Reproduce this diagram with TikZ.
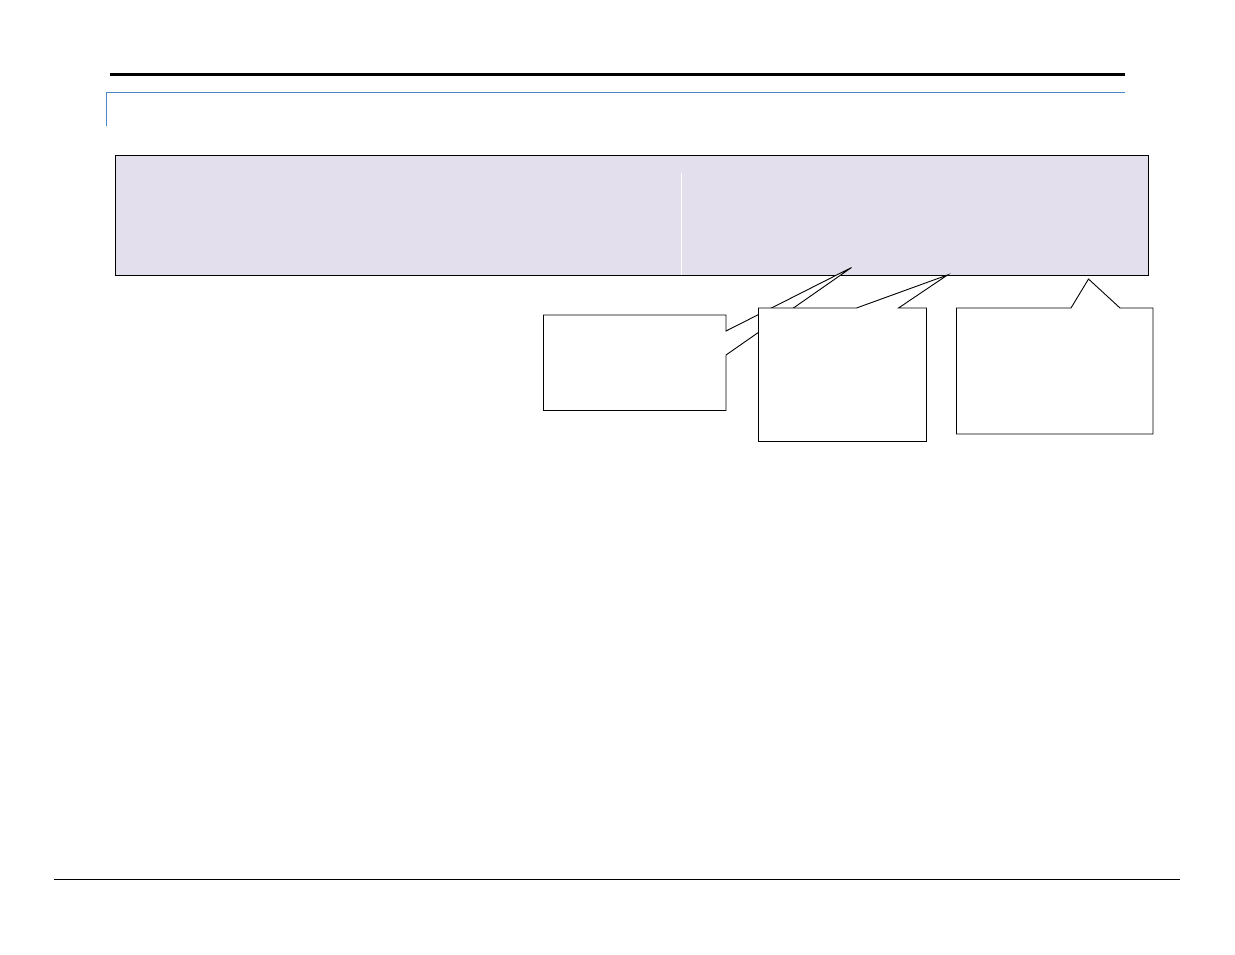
\documentclass[tikz,border=0pt]{standalone}
\usepackage{tikz}
\definecolor{panelfill}{HTML}{E4DFEC}
\definecolor{rulecolor}{HTML}{4A86C8}
\tikzset{
  calloutbox/.style={draw=black, fill=white, line width=0.9pt, line join=miter},
  panelbox/.style={draw=black, fill=panelfill, line width=0.9pt},
}
\begin{document}
\begin{tikzpicture}[x=1pt,y=-1pt]
\useasboundingbox[fill=white] (0,0) rectangle (1235,954);
% header rule
\draw[line width=3pt] (110,74.5) -- (1125,74.5);
% blue title frame
\draw[rulecolor, line width=1pt] (106,126) -- (106,92.5) -- (1125,92.5);
% panel
\draw[panelbox] (115,155.5) rectangle (1148,275);
\draw[white, line width=1pt] (681.5,173) -- (681.5,275);
% callout 1 (behind callout 2)
\coordinate (t1) at (851.5,267.5);
\draw[calloutbox] (543.5,315) -- (726,315) -- (726,331) -- (t1) -- (726,355) -- (726,410.5) -- (543.5,410.5) -- cycle;
% callout 2
\coordinate (t2) at (947.5,275);
\draw[calloutbox] (758.5,308) -- (856.5,308) -- (t2) -- (898.5,308) -- (926.5,308) -- (926.5,441.5) -- (758.5,441.5) -- cycle;
% callout 3
\coordinate (t3) at (1088.5,279);
\draw[calloutbox] (956.5,308) -- (1071,308) -- (t3) -- (1120,308) -- (1153,308) -- (1153,434) -- (956.5,434) -- cycle;
% footer rule
\draw[line width=1pt] (54,879.5) -- (1180,879.5);
\end{tikzpicture}
\end{document}
